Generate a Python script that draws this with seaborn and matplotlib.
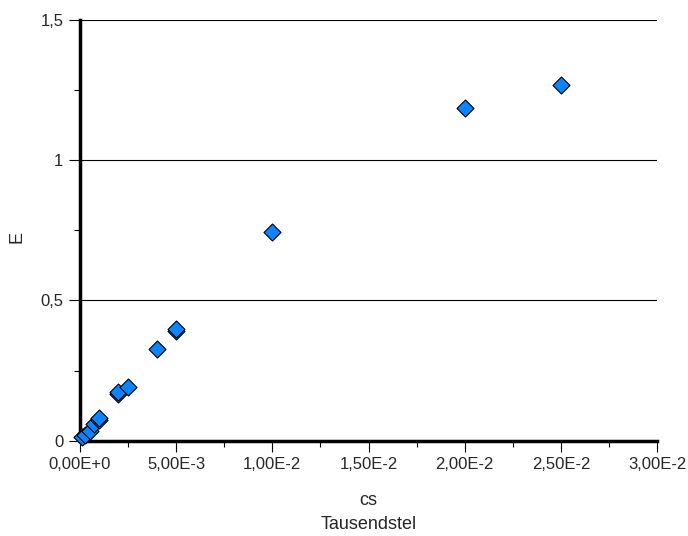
import numpy as np
import pandas as pd

import matplotlib
matplotlib.use("Agg")
import matplotlib.pyplot as plt
from matplotlib.ticker import FuncFormatter, MultipleLocator
import seaborn as sns

# data
cs = [0.0001, 0.00025, 0.0005, 0.00075, 0.001, 0.001, 0.002, 0.002,
      0.0025, 0.004, 0.005, 0.005, 0.01, 0.02, 0.025]
E = [0.012, 0.022, 0.035, 0.058, 0.075, 0.08, 0.165, 0.172,
     0.19, 0.326, 0.39, 0.397, 0.743, 1.187, 1.268]

df = pd.DataFrame({"cs": cs, "E": E})

sns.set_style("white")
plt.rcParams['font.family'] = ['Liberation Sans', 'DejaVu Sans']

fig = plt.figure(figsize=(6.88, 5.36), dpi=100)
ax = fig.add_axes([80 / 688, 1 - 440.7 / 536, (657 - 80) / 688, (440.7 - 20) / 536])

sns.scatterplot(data=df, x="cs", y="E", marker="D", s=75, color="#0a84ff",
                edgecolor="black", linewidth=0.8, ax=ax, zorder=3, clip_on=False)

ax.set_xlim(0, 0.03)
ax.set_ylim(0, 1.5)

# horizontal grid lines
for yv in [0.5, 1.0, 1.5]:
    ax.axhline(yv, color="black", lw=0.8, zorder=1)

ax.xaxis.set_major_locator(MultipleLocator(0.005))
ax.xaxis.set_minor_locator(MultipleLocator(0.0025))
ax.yaxis.set_major_locator(MultipleLocator(0.5))
ax.yaxis.set_minor_locator(MultipleLocator(0.25))


def sci_fmt(v, pos):
    if abs(v) < 1e-12:
        return "0,00E+0"
    exp = int(np.floor(np.log10(abs(v))))
    mant = v / 10 ** exp
    s = f"{mant:.2f}".replace(".", ",")
    sign = "+" if exp >= 0 else "-"
    return f"{s}E{sign}{abs(exp)}"


def y_fmt(v, pos):
    return f"{v:g}".replace(".", ",")


ax.xaxis.set_major_formatter(FuncFormatter(sci_fmt))
ax.yaxis.set_major_formatter(FuncFormatter(y_fmt))

ax.tick_params(which="major", direction="out", length=8, width=0.8,
               labelsize=12, color="black", pad=4, bottom=True, left=True)
ax.tick_params(which="minor", direction="out", length=4, width=0.8,
               color="black", bottom=True, left=True)

for side in ["top", "right"]:
    ax.spines[side].set_visible(False)
for side in ["left", "bottom"]:
    ax.spines[side].set_linewidth(2.5)
    ax.spines[side].set_color("black")

ax.set_xlabel("cs\nTausendstel", fontsize=13, labelpad=14, linespacing=1.55)
ax.set_ylabel("E", fontsize=13)
ax.yaxis.set_label_coords(-0.095, 0.485)

fig.savefig("out.png", dpi=100)
plt.close()
